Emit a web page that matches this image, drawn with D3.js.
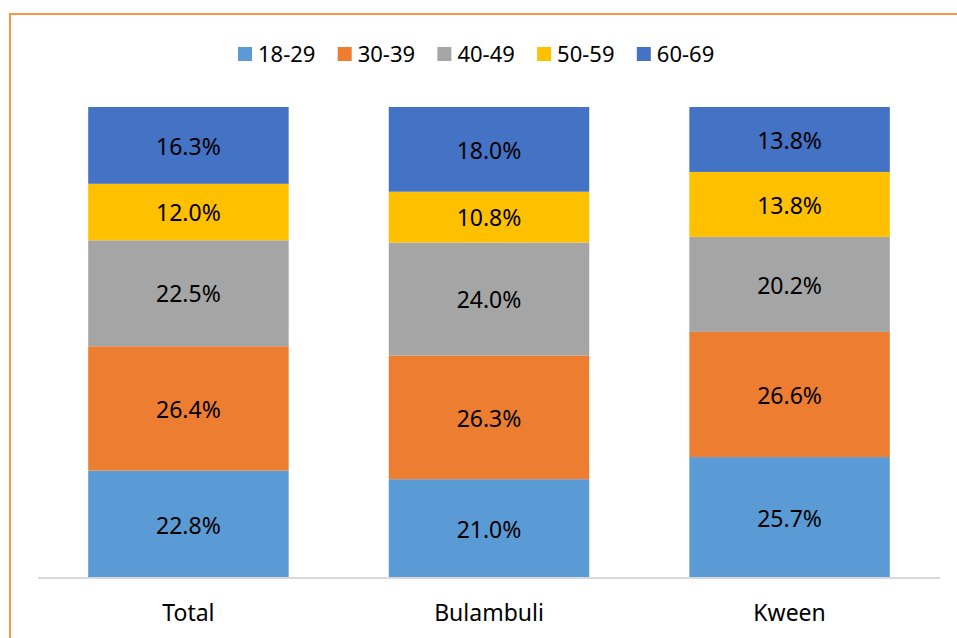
<!DOCTYPE html>
<html lang="en">
	<head>
		<meta charset="utf-8">
		<title>Age groups by district</title>
		<script src="https://cdn.jsdelivr.net/npm/d3@7"></script>
		<style>
			body { margin: 0; background: #fff; }
			text { font-family: "Noto Sans", "Open Sans", sans-serif; fill: #000; }
		</style>
	</head>
	<body>
		<script>

			// Data
			var categories = ["Total", "Bulambuli", "Kween"];
			var ageGroups = ["18-29", "30-39", "40-49", "50-59", "60-69"];
			var age18_29 = [22.8, 21.0, 25.7];
			var age30_39 = [26.4, 26.3, 26.6];
			var age40_49 = [22.5, 24.0, 20.2];
			var age50_59 = [12.0, 10.8, 13.8];
			var age60_69 = [16.3, 18.0, 13.8];
			var colors = ["#5B9BD5", "#ED7D31", "#A5A5A5", "#FFC000", "#4472C4"];

			var w = 957;
			var h = 638;

			var series = [age18_29, age30_39, age40_49, age50_59, age60_69];
			var table = categories.map(function(c, i) {
				var row = { cat: c };
				ageGroups.forEach(function(g, j) { row[g] = series[j][i]; });
				return row;
			});

			var stacked = d3.stack()
				.keys(ageGroups)
				.offset(d3.stackOffsetExpand)(table);

			var xScale = d3.scaleBand()
				.domain(categories)
				.range([38, 940])
				.paddingInner(0.333)
				.paddingOuter(0.167);

			var yScale = d3.scaleLinear()
				.domain([0, 1])
				.range([578, 107]);

			var colorScale = d3.scaleOrdinal().domain(ageGroups).range(colors);

			var svg = d3.select("body")
				.append("svg")
				.attr("width", w)
				.attr("height", h);

			// chart border (only top/left visible in crop)
			svg.append("rect")
				.attr("x", 10)
				.attr("y", 14)
				.attr("width", 980)
				.attr("height", 700)
				.attr("fill", "none")
				.attr("stroke", "#F79646")
				.attr("stroke-width", 2);

			// bars
			var layers = svg.selectAll("g.layer")
				.data(stacked)
				.enter()
				.append("g")
				.attr("class", "layer")
				.attr("fill", function(d) { return colorScale(d.key); });

			layers.selectAll("rect")
				.data(function(d) { return d; })
				.enter()
				.append("rect")
				.attr("x", function(d) { return xScale(d.data.cat); })
				.attr("y", function(d) { return yScale(d[1]); })
				.attr("width", xScale.bandwidth())
				.attr("height", function(d) { return yScale(d[0]) - yScale(d[1]); });

			// labels
			stacked.forEach(function(layer) {
				svg.selectAll(null)
					.data(layer)
					.enter()
					.append("text")
					.attr("x", function(d) { return xScale(d.data.cat) + xScale.bandwidth() / 2; })
					.attr("y", function(d) { return (yScale(d[0]) + yScale(d[1])) / 2; })
					.attr("dy", "0.4em")
					.attr("text-anchor", "middle")
					.attr("font-size", "23px")
					.text(function(d) { return d.data[layer.key].toFixed(1) + "%"; });
			});

			// x axis
			var xAxis = svg.append("g")
				.attr("transform", "translate(0,578)")
				.call(d3.axisBottom(xScale).tickSize(0).tickPadding(27));
			xAxis.select(".domain")
				.attr("d", "M38,0H940")
				.attr("stroke", "#D9D9D9")
				.attr("stroke-width", 2);
			xAxis.selectAll("text")
				.attr("font-size", "23px")
				.attr("font-family", "Noto Sans")
				.attr("fill", "#000");

			// legend
			var legend = svg.selectAll("g.legend")
				.data(ageGroups)
				.enter()
				.append("g")
				.attr("class", "legend")
				.attr("transform", function(d, i) { return "translate(" + (238 + i * 99.7) + ",47)"; });

			legend.append("rect")
				.attr("width", 14)
				.attr("height", 14)
				.attr("fill", function(d) { return colorScale(d); });

			legend.append("text")
				.attr("x", 20)
				.attr("y", 15)
				.attr("font-size", "22px")
				.text(function(d) { return d; });

		</script>
	</body>
</html>
